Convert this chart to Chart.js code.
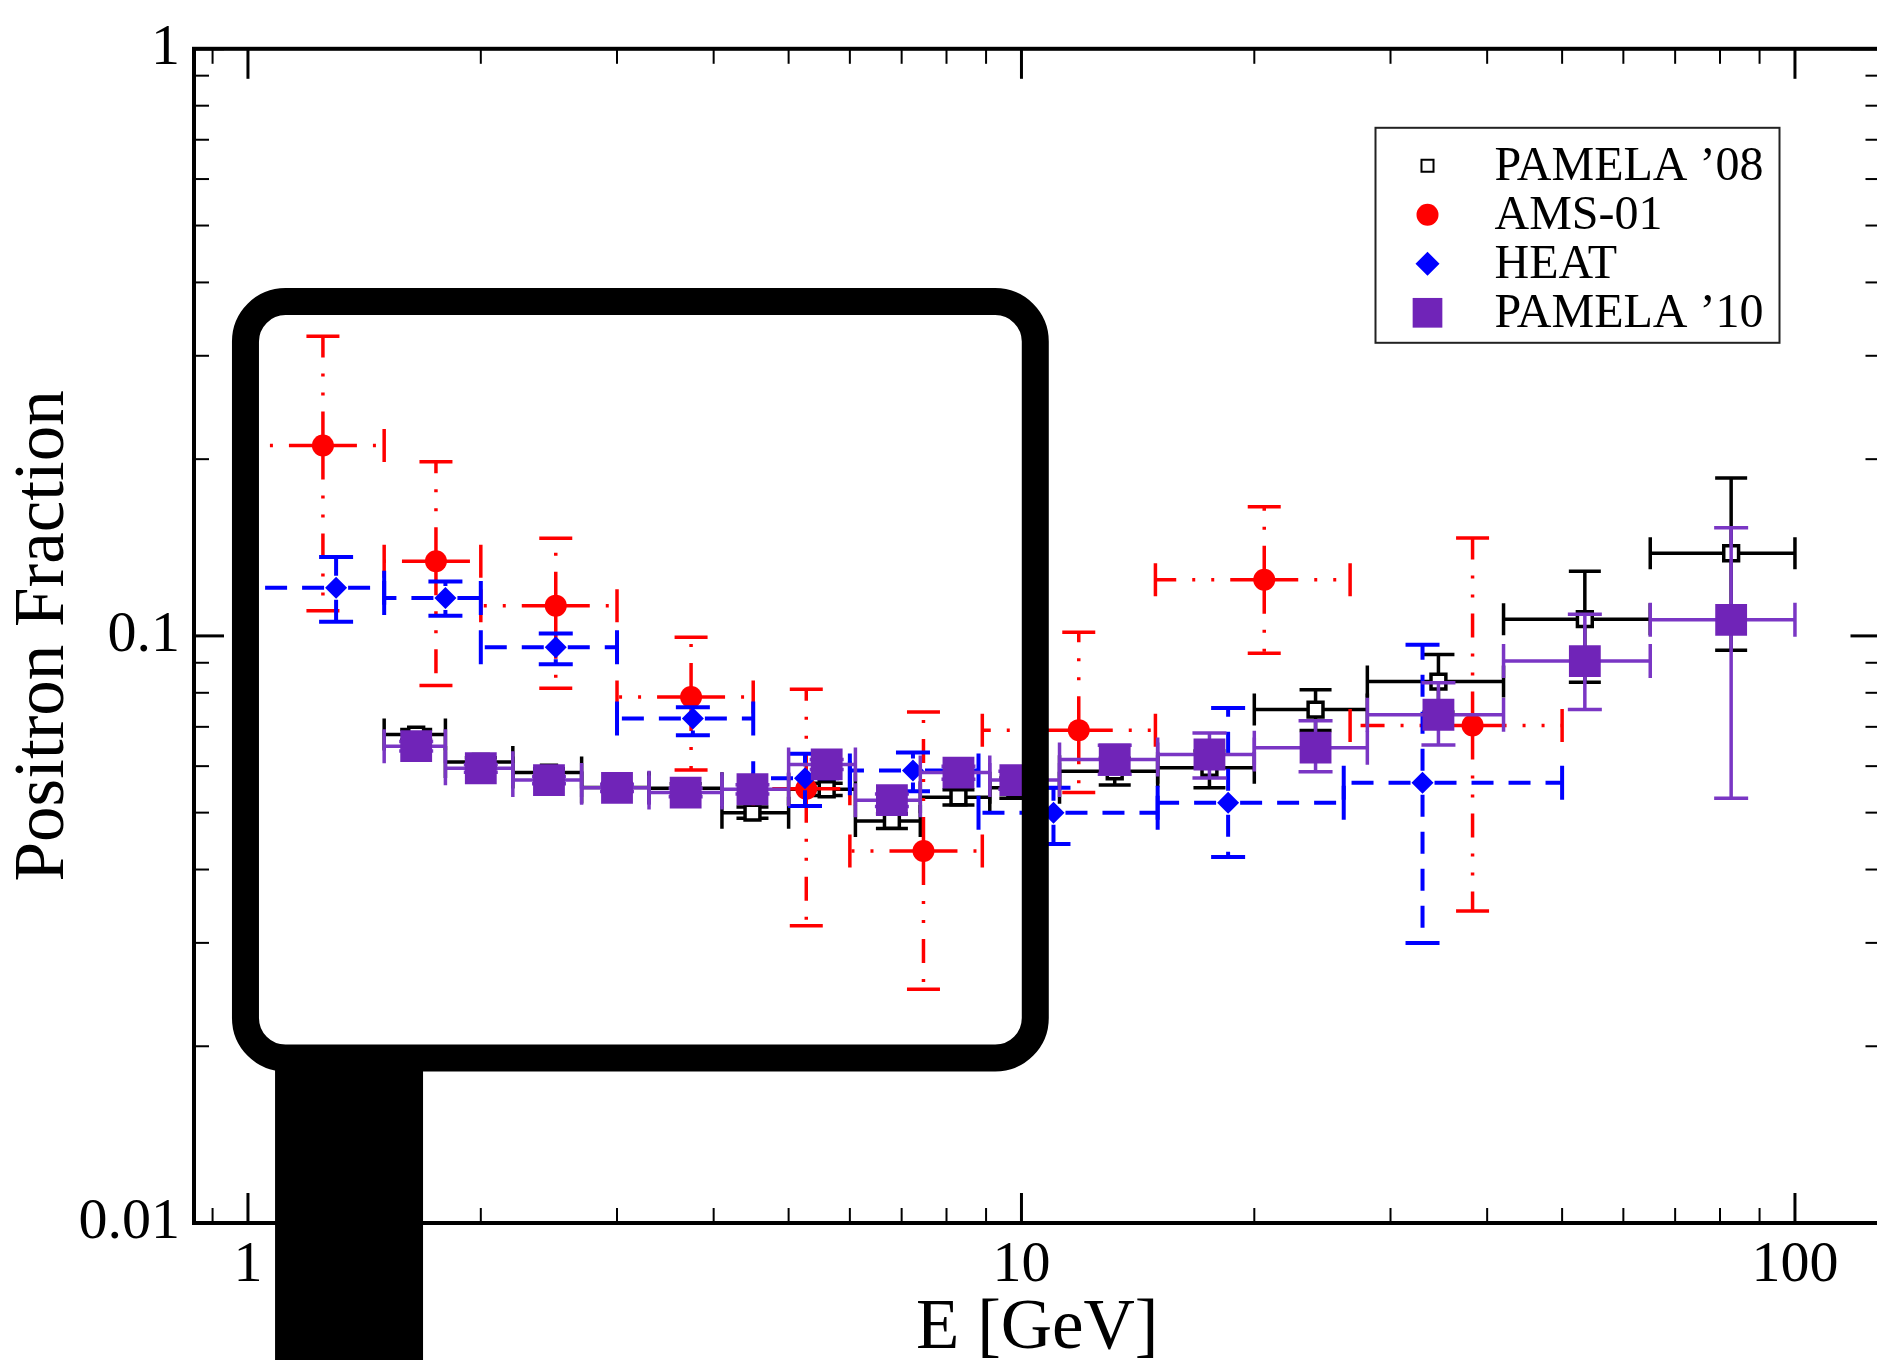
<!DOCTYPE html>
<html>
<head>
<meta charset="utf-8">
<title>Positron Fraction</title>
<script src="https://cdn.jsdelivr.net/npm/chart.js@4.4.1/dist/chart.umd.min.js"></script>
<style>
    html, body { margin: 0; padding: 0; background: #fff; overflow: hidden; }
    #wrap { width: 1903px; height: 1360px; }
</style>
</head>
<body>
<div id="wrap"><canvas id="positronChart" width="1903" height="1360"></canvas></div>
<script>
// --- tick labels ---
const xTickLabels = [1, 10, 100];
const yTickLabels = [0.01, 0.1, 1];

// --- PAMELA energy bins (same for '08 and '10) ---
const pamelaEnergy  = [1.65, 2.00, 2.45, 3.00, 3.68, 4.49, 5.60, 6.80, 8.29, 9.82, 13.2, 17.5, 24.0, 34.6, 53.5, 82.7];
const pamelaBinLow  = [1.5, 1.8, 2.2, 2.7, 3.3, 4.1, 5.0, 6.1, 7.4, 9.1, 11.2, 15, 20, 28, 42, 65];
const pamelaBinHigh = [1.8, 2.2, 2.7, 3.3, 4.1, 5.0, 6.1, 7.4, 9.1, 11.2, 15, 20, 28, 42, 65, 100];

// PAMELA '08
const pamela08Value = [0.0679, 0.0610, 0.0585, 0.0552, 0.0550, 0.0500, 0.0548, 0.0484, 0.0531, 0.0551, 0.0588, 0.0596, 0.0749, 0.0836, 0.1068, 0.1383];
const pamela08Low   = [0.0665, 0.0600, 0.0576, 0.0543, 0.0540, 0.0489, 0.0535, 0.0470, 0.0515, 0.0529, 0.0557, 0.0551, 0.0690, 0.0742, 0.0834, 0.0945];
const pamela08High  = [0.0693, 0.0620, 0.0594, 0.0561, 0.0560, 0.0511, 0.0561, 0.0498, 0.0547, 0.0573, 0.0619, 0.0637, 0.0810, 0.0930, 0.1288, 0.1857];

// PAMELA '10
const pamela10Value = [0.0649, 0.0595, 0.0568, 0.0551, 0.0541, 0.0548, 0.0604, 0.0525, 0.0585, 0.0568, 0.0616, 0.0628, 0.0645, 0.0734, 0.0906, 0.1065];
const pamela10Low   = [0.0637, 0.0586, 0.0560, 0.0543, 0.0532, 0.0538, 0.0592, 0.0512, 0.0570, 0.0548, 0.0581, 0.0573, 0.0587, 0.0652, 0.0749, 0.0529];
const pamela10High  = [0.0661, 0.0604, 0.0576, 0.0559, 0.0550, 0.0558, 0.0616, 0.0538, 0.0600, 0.0588, 0.0651, 0.0683, 0.0717, 0.0832, 0.1089, 0.1529];

// AMS-01
const amsEnergy  = [1.25, 1.75, 2.50, 3.74, 5.27, 7.47, 11.86, 20.6, 38.3];
const amsBinLow  = [1.0, 1.5, 2.0, 3.0, 4.5, 6.0, 8.9, 14.9, 26.6];
const amsBinHigh = [1.5, 2.0, 3.0, 4.5, 6.0, 8.9, 14.9, 26.6, 50];
const amsValue   = [0.211, 0.134, 0.1126, 0.0787, 0.0549, 0.0430, 0.0691, 0.1246, 0.0704];
const amsLow     = [0.1104, 0.0823, 0.0814, 0.0591, 0.0321, 0.0250, 0.0541, 0.0934, 0.0340];
const amsHigh    = [0.324, 0.198, 0.1466, 0.0995, 0.0811, 0.0742, 0.1014, 0.166, 0.1468];

// HEAT
const heatEnergy  = [1.30, 1.80, 2.50, 3.76, 5.25, 7.24, 11.0, 18.5, 33.0];
const heatBinLow  = [1.0, 1.5, 2.0, 3.0, 4.5, 6.0, 8.8, 15.0, 26.1];
const heatBinHigh = [1.5, 2.0, 3.0, 4.5, 6.0, 8.8, 15.0, 26.1, 50];
const heatValue   = [0.1208, 0.116, 0.0956, 0.0723, 0.0572, 0.0590, 0.0500, 0.0520, 0.0562];
const heatLow     = [0.1057, 0.1082, 0.0895, 0.0677, 0.0513, 0.0544, 0.0442, 0.0420, 0.0300];
const heatHigh    = [0.1362, 0.1238, 0.1009, 0.0756, 0.0630, 0.0633, 0.0551, 0.0754, 0.0966];

// the rounded box drawn over the low energy part (data units)
const highlightE = [0.9926, 10.42];
const highlightF = [0.0191, 0.371];
const highlightBarE = [1.084, 1.684];

const serif = "'Liberation Serif', 'Times New Roman', serif";

function makeDataset(label, energy, value, binLow, binHigh, low, high, look) {
    return {
        label: label,
        data: energy.map((e, i) => ({ x: e, y: value[i] })),
        errX: energy.map((e, i) => [binLow[i], binHigh[i]]),
        errY: energy.map((e, i) => [low[i], high[i]]),
        showLine: false,
        ...look
    };
}

function seg(ctx, x0, y0, x1, y1) {
    ctx.beginPath();
    ctx.moveTo(x0, y0);
    ctx.lineTo(x1, y1);
    ctx.stroke();
}

// draws the dataset's error bars just before its markers, so layering follows dataset order
const errorBarsPlugin = {
    id: 'errorBars',
    beforeDatasetDraw(chart, args) {
        const ds = chart.data.datasets[args.index];
        if (!ds.errX) return;
        const { ctx, chartArea: a } = chart;
        const sx = chart.scales.x, sy = chart.scales.y;
        const st = ds.errStyle;
        ctx.save();
        ctx.beginPath();
        ctx.rect(a.left, a.top, a.right - a.left, a.bottom - a.top);
        ctx.clip();
        ctx.strokeStyle = st.color;
        ctx.lineWidth = st.width;
        ds.data.forEach((p, i) => {
            const px = sx.getPixelForValue(p.x);
            const py = sy.getPixelForValue(p.y);
            const xl = sx.getPixelForValue(ds.errX[i][0]);
            const xr = sx.getPixelForValue(ds.errX[i][1]);
            const yb = sy.getPixelForValue(ds.errY[i][0]);
            const yt = sy.getPixelForValue(ds.errY[i][1]);
            // bars drawn from the point outwards
            ctx.setLineDash(st.dash);
            ctx.lineDashOffset = st.dashOffset || 0;
            seg(ctx, px, py, xl, py);
            seg(ctx, px, py, xr, py);
            seg(ctx, px, py, px, yt);
            seg(ctx, px, py, px, yb);
            ctx.setLineDash([]);
            const c = st.cap / 2;
            seg(ctx, xl, py - c, xl, py + c);
            seg(ctx, xr, py - c, xr, py + c);
            seg(ctx, px - c, yt, px + c, yt);
            seg(ctx, px - c, yb, px + c, yb);
        });
        ctx.restore();
    }
};

// frame with inward ticks on all four sides
const framePlugin = {
    id: 'frame',
    afterDatasetsDraw(chart) {
        const { ctx, chartArea: a } = chart;
        const sx = chart.scales.x, sy = chart.scales.y;
        ctx.save();
        ctx.strokeStyle = '#000';
        const drawTicks = (scale, horizontal) => {
            for (let dec = -3; dec <= 3; dec++) {
                for (let m = 1; m <= 9; m++) {
                    const v = m * Math.pow(10, dec);
                    if (v < scale.min || v > scale.max) continue;
                    const major = m === 1;
                    const len = major ? 30 : 15;
                    ctx.lineWidth = major ? 3 : 2;
                    const p = scale.getPixelForValue(v);
                    if (horizontal) {
                        seg(ctx, p, a.bottom, p, a.bottom - len);
                        seg(ctx, p, a.top, p, a.top + len);
                    } else {
                        seg(ctx, a.left, p, a.left + len, p);
                        seg(ctx, a.right, p, a.right - len, p);
                    }
                }
            }
        };
        drawTicks(sx, true);
        drawTicks(sy, false);
        ctx.lineWidth = 4;
        ctx.strokeRect(a.left, a.top, a.right - a.left, a.bottom - a.top);
        ctx.restore();
    }
};

const legendPlugin = {
    id: 'boxLegend',
    afterDatasetsDraw(chart) {
        const { ctx, chartArea: a } = chart;
        const left = a.right - 505, top = a.top + 79;
        const w = 404, h = 215;
        ctx.save();
        ctx.fillStyle = '#fff';
        ctx.fillRect(left, top, w, h);
        ctx.strokeStyle = '#222';
        ctx.lineWidth = 2;
        ctx.strokeRect(left, top, w, h);
        ctx.font = '48px ' + serif;
        ctx.textBaseline = 'middle';
        chart.data.datasets.forEach((ds, i) => {
            const y = top + 38 + i * 49;
            const mx = left + 52;
            ctx.fillStyle = ds.backgroundColor;
            ctx.strokeStyle = ds.borderColor;
            Chart.helpers.drawPoint(ctx, {
                pointStyle: ds.pointStyle,
                radius: ds.legendRadius,
                borderWidth: ds.borderWidth,
                rotation: 0
            }, mx, y);
            ctx.fillStyle = '#000';
            ctx.fillText(ds.label, left + 119, y + 2);
        });
        ctx.restore();
    }
};

const highlightPlugin = {
    id: 'highlight',
    afterDraw(chart) {
        const { ctx } = chart;
        const sx = chart.scales.x, sy = chart.scales.y;
        const x0 = sx.getPixelForValue(highlightE[0]);
        const x1 = sx.getPixelForValue(highlightE[1]);
        const y0 = sy.getPixelForValue(highlightF[1]);
        const y1 = sy.getPixelForValue(highlightF[0]);
        const r = 40;
        ctx.save();
        ctx.fillStyle = '#000';
        const bx0 = sx.getPixelForValue(highlightBarE[0]);
        const bx1 = sx.getPixelForValue(highlightBarE[1]);
        ctx.fillRect(bx0, y1, bx1 - bx0, chart.height - y1);
        ctx.strokeStyle = '#000';
        ctx.lineWidth = 27;
        ctx.beginPath();
        ctx.moveTo(x0 + r, y0);
        ctx.arcTo(x1, y0, x1, y1, r);
        ctx.arcTo(x1, y1, x0, y1, r);
        ctx.arcTo(x0, y1, x0, y0, r);
        ctx.arcTo(x0, y0, x1, y0, r);
        ctx.closePath();
        ctx.stroke();
        ctx.restore();
    }
};

const near = (v, list) => list.find(t => Math.abs(v - t) / t < 1e-6);

const datasets = [
    makeDataset('PAMELA \u201908', pamelaEnergy, pamela08Value, pamelaBinLow, pamelaBinHigh, pamela08Low, pamela08High, {
        pointStyle: 'rect', pointRadius: 10.5, legendRadius: 8.5, borderWidth: 3.5,
        borderColor: '#000', backgroundColor: '#fff', order: 4,
        errStyle: { color: '#000', width: 3.5, dash: [], cap: 32 }
    }),
    makeDataset('AMS-01', amsEnergy, amsValue, amsBinLow, amsBinHigh, amsLow, amsHigh, {
        pointStyle: 'circle', pointRadius: 11, legendRadius: 11, borderWidth: 0,
        borderColor: '#ff0000', backgroundColor: '#ff0000', order: 3,
        errStyle: { color: '#ff0000', width: 3.5, dash: [24, 16, 3, 16, 3, 16], dashOffset: -10, cap: 33 }
    }),
    makeDataset('HEAT', heatEnergy, heatValue, heatBinLow, heatBinHigh, heatLow, heatHigh, {
        pointStyle: 'rectRot', pointRadius: 11, legendRadius: 12, borderWidth: 0,
        borderColor: '#0000ff', backgroundColor: '#0000ff', order: 2,
        errStyle: { color: '#0000ff', width: 4, dash: [22, 15], dashOffset: -12, cap: 34 }
    }),
    makeDataset('PAMELA \u201910', pamelaEnergy, pamela10Value, pamelaBinLow, pamelaBinHigh, pamela10Low, pamela10High, {
        pointStyle: 'rect', pointRadius: 22.5, legendRadius: 21, borderWidth: 0,
        borderColor: '#7024b8', backgroundColor: '#7024b8', order: 1,
        errStyle: { color: '#7a36c4', width: 3.5, dash: [], cap: 34 }
    })
];

new Chart(document.getElementById('positronChart').getContext('2d'), {
    type: 'scatter',
    data: { datasets: datasets },
    options: {
        responsive: false,
        animation: false,
        layout: { padding: { top: 43, right: 4, left: 0, bottom: 0 } },
        plugins: {
            legend: { display: false },
            tooltip: { enabled: false }
        },
        elements: { point: { hoverRadius: 0 } },
        scales: {
            x: {
                type: 'logarithmic',
                min: 0.8516,
                max: 129,
                grid: { display: false, drawTicks: false },
                border: { display: false },
                ticks: {
                    autoSkip: false, maxRotation: 0, padding: 8, color: '#000',
                    font: { family: serif, size: 58 },
                    callback: v => { const t = near(v, xTickLabels); return t ? String(t) : ''; }
                },
                title: {
                    display: true, text: 'E [GeV]', color: '#000',
                    font: { family: serif, size: 71, lineHeight: 0.86 },
                    padding: { top: 0, bottom: 0 }
                },
                afterFit: s => { s.height = 137; }
            },
            y: {
                type: 'logarithmic',
                min: 0.01,
                max: 1,
                grid: { display: false, drawTicks: false },
                border: { display: false },
                ticks: {
                    autoSkip: false, padding: 14, color: '#000',
                    font: { family: serif, size: 58 },
                    callback: v => { const t = near(v, yTickLabels); return t ? String(t) : ''; }
                },
                title: {
                    display: true, text: 'Positron Fraction', color: '#000',
                    font: { family: serif, size: 71, lineHeight: 1 },
                    padding: { top: 9, bottom: 0 }
                },
                afterFit: s => { s.width = 194; }
            }
        }
    },
    plugins: [errorBarsPlugin, framePlugin, legendPlugin, highlightPlugin]
});
</script>
</body>
</html>
